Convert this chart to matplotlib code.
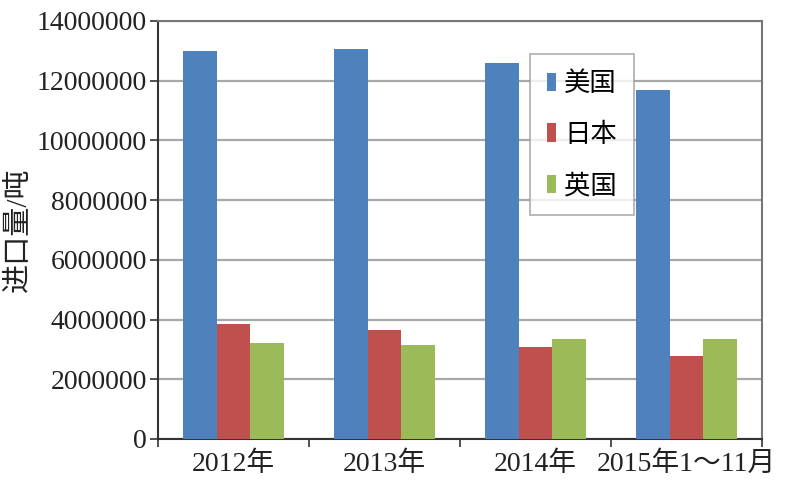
import matplotlib
matplotlib.use("Agg")
import matplotlib.pyplot as plt
import numpy as np

categories = ["2012年", "2013年", "2014年", "2015年1～11月"]
series_names = ["美国", "日本", "英国"]
usa = [13000000, 13060000, 12600000, 11700000]
japan = [3840000, 3640000, 3070000, 2770000]
uk = [3210000, 3140000, 3340000, 3340000]
yticks = [0, 2000000, 4000000, 6000000, 8000000, 10000000, 12000000, 14000000]
ylabel = "进口量/吨"

colors = ["#4F81BD", "#C0504D", "#9BBB59"]
fam = ["Liberation Serif", "Noto Sans CJK SC", "DejaVu Sans"]
plt.rcParams['font.family'] = fam

fig = plt.figure(figsize=(8, 5), dpi=100)
ax = fig.add_axes([0.1975, 0.122, 0.755, 0.836])

x = np.arange(len(categories))
w = 0.222
for i, (vals, name) in enumerate(zip([usa, japan, uk], series_names)):
    ax.bar(x + (i - 1) * w, vals, width=w, color=colors[i], label=name, zorder=3)

ax.set_xlim(-0.5, len(categories) - 0.5)
ax.set_ylim(0, 14000000)
ax.set_yticks(yticks)
ax.set_yticklabels([str(v) for v in yticks], fontsize=20, color="#222222")
ax.set_xticks(x)
ax.set_xticklabels(categories, fontsize=20, color="#222222")
ax.tick_params(axis='x', length=0, pad=9)
ax.set_xticks(np.arange(-0.5, len(categories), 1.0), minor=True)
ax.tick_params(axis='x', which='minor', length=6, width=1.2, direction='out', color="#333333")
ax.tick_params(axis='y', length=6, width=1.2, direction='out', color="#333333", pad=2)

ax.yaxis.grid(True, color="#A8A8A8", linewidth=1.6, zorder=0)
ax.set_axisbelow(True)
for s in ["top", "right"]:
    ax.spines[s].set_color("#777777")
    ax.spines[s].set_linewidth(1.5)
for s in ["left", "bottom"]:
    ax.spines[s].set_color("#333333")
    ax.spines[s].set_linewidth(1.5)

fig.text(0.024, 0.54, ylabel, rotation=90, fontsize=21, va="center", ha="center", color="#222222")

leg = ax.legend(loc="upper left", bbox_to_anchor=(0.616, 0.92), fontsize=19,
                frameon=True, fancybox=False, handlelength=0.35, handleheight=0.7,
                handletextpad=0.3, labelspacing=1.0, borderpad=0.65, borderaxespad=0)
leg.get_frame().set_edgecolor("#999999")
leg.get_frame().set_linewidth(1.2)

fig.savefig("out.png", dpi=100)
